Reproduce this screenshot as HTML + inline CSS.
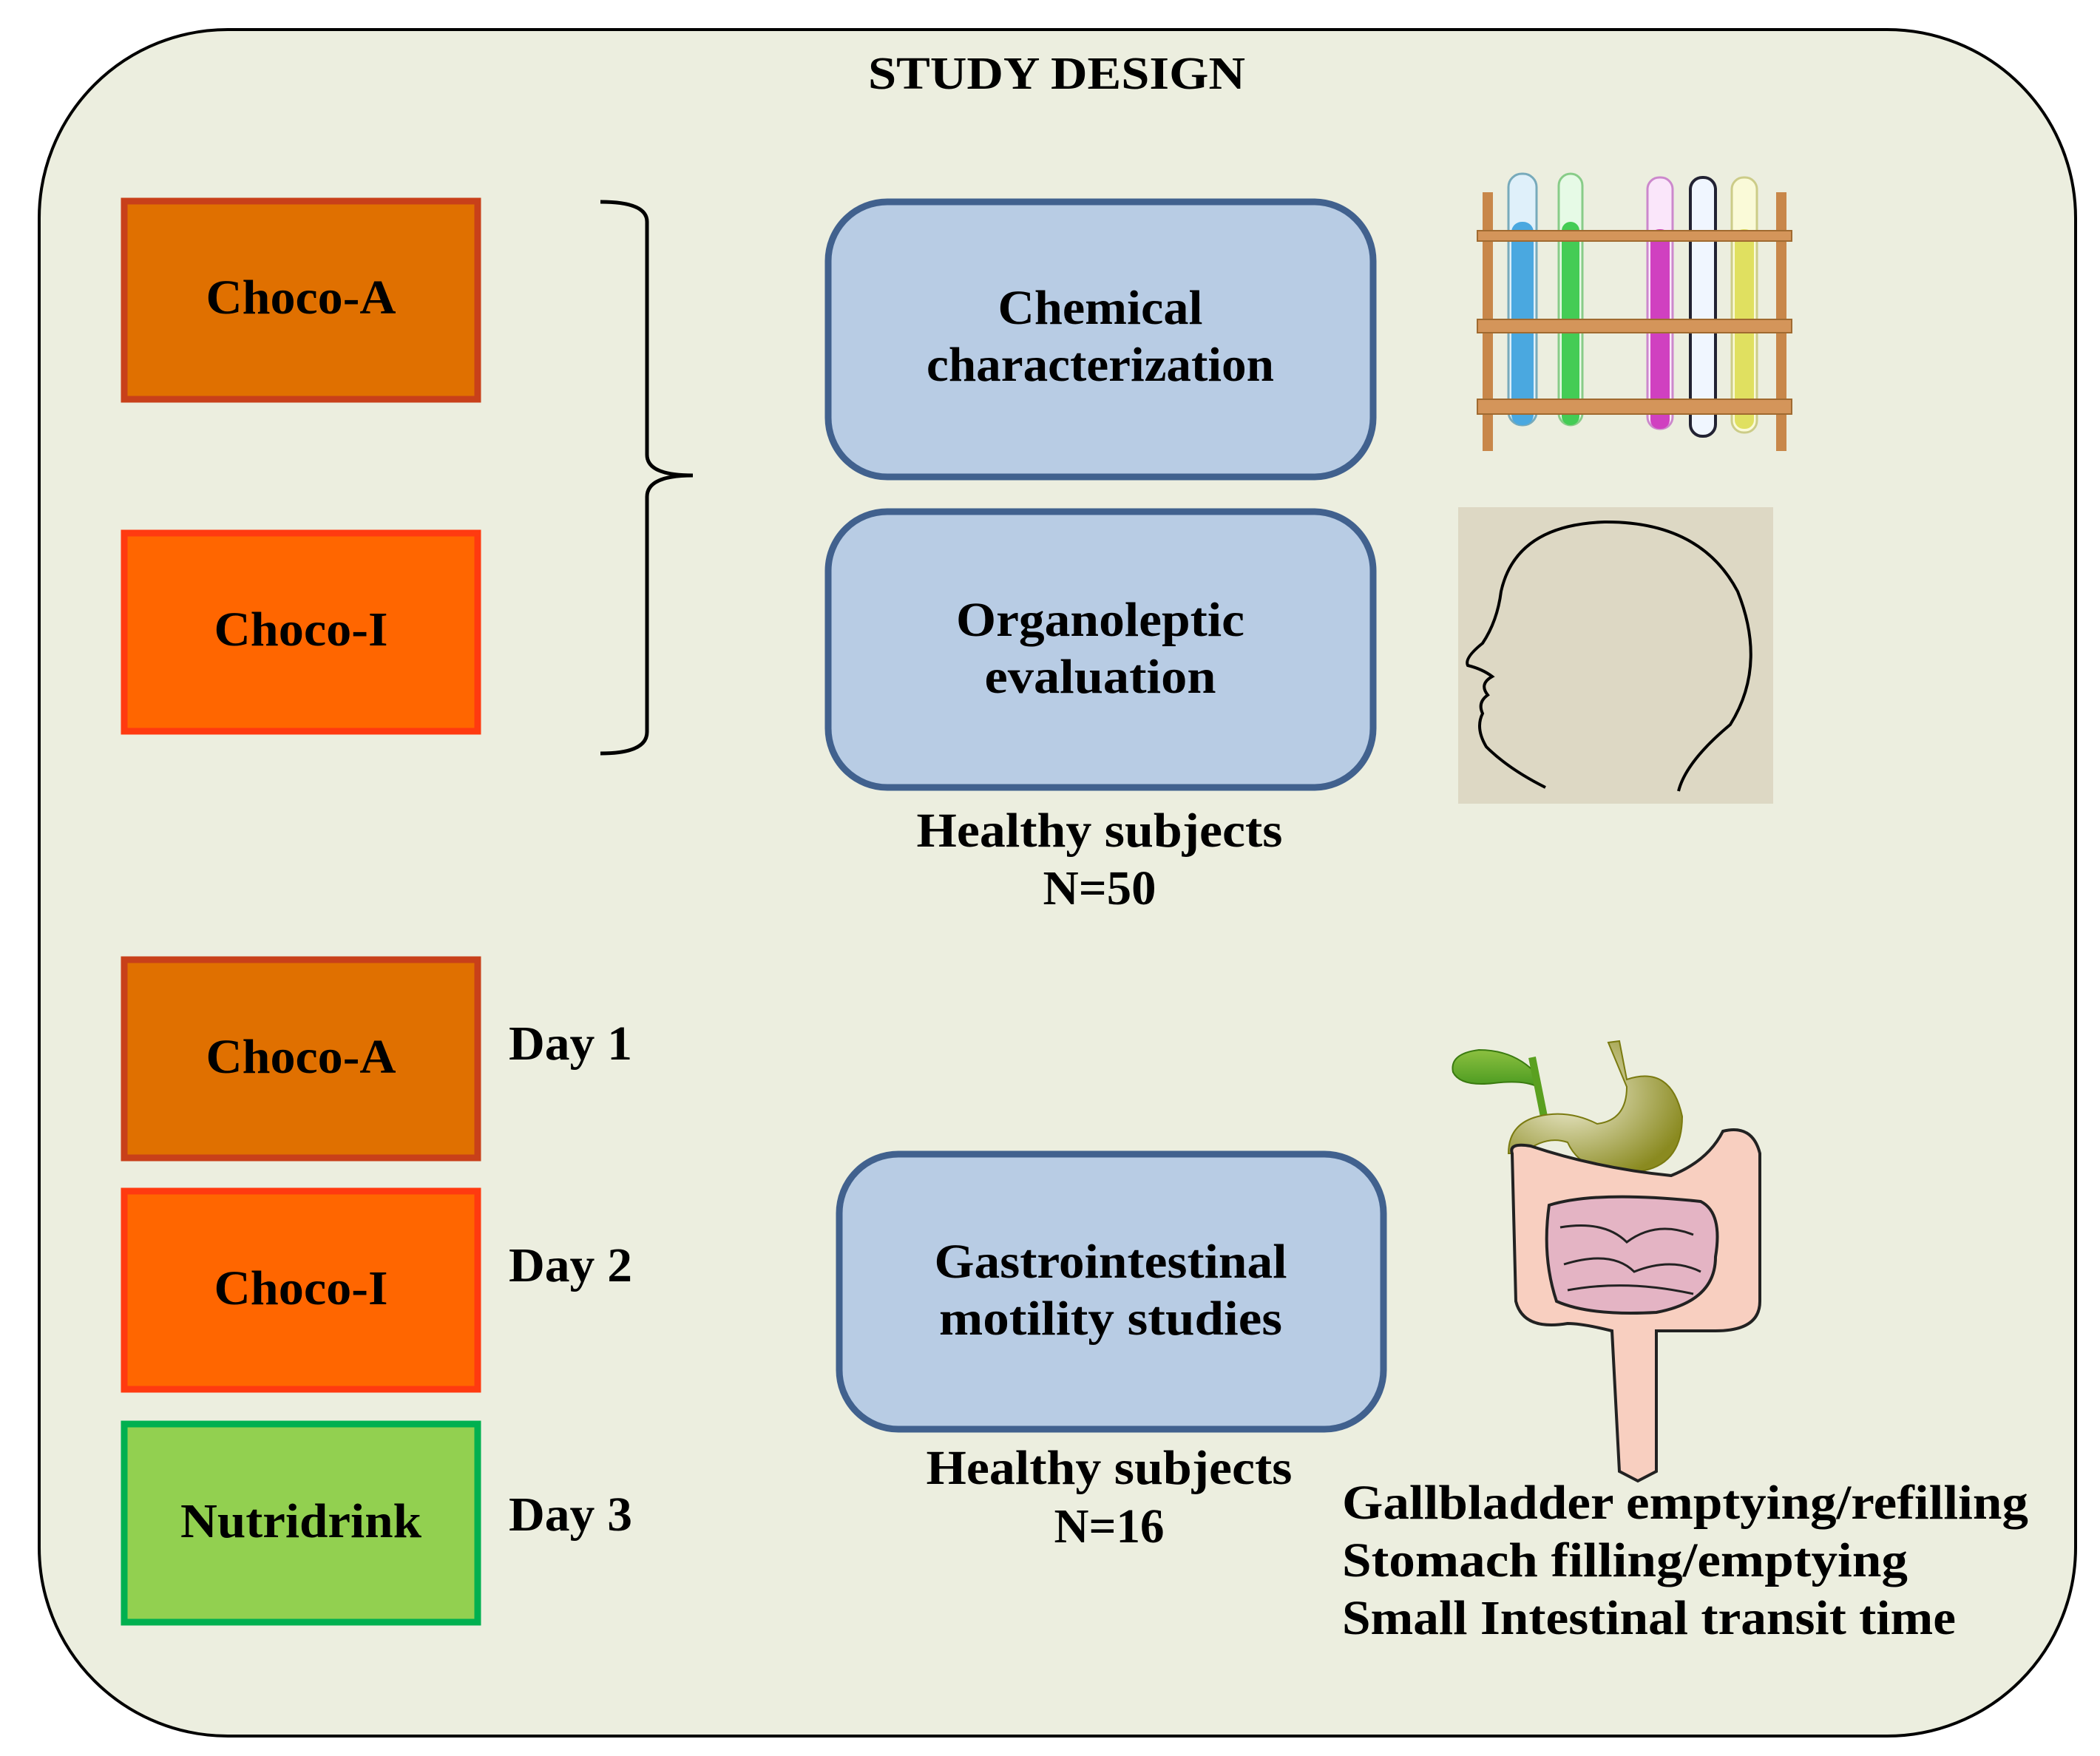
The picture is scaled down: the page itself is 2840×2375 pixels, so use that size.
<!DOCTYPE html>
<html><head><meta charset="utf-8"><style>
html,body{margin:0;padding:0;background:#fff}
svg{display:block}
text{font-family:"Liberation Serif",serif;font-weight:bold;fill:#000}
</style></head><body>
<svg width="2840" height="2375" viewBox="0 0 2840 2375" xmlns="http://www.w3.org/2000/svg">
<defs>
<radialGradient id="st" cx="0.35" cy="0.4" r="0.7"><stop offset="0" stop-color="#f4f2dc"/><stop offset="1" stop-color="#8a8a20"/></radialGradient>
<linearGradient id="gb" x1="0" y1="0" x2="0" y2="1"><stop offset="0" stop-color="#8cc040"/><stop offset="1" stop-color="#4a9a20"/></linearGradient>
</defs>
<rect x="53" y="40" width="2754" height="2308" rx="255" fill="#ECEEDF" stroke="#000" stroke-width="4"/>
<text x="1429" y="120" font-size="62" text-anchor="middle" textLength="510" lengthAdjust="spacingAndGlyphs">STUDY DESIGN</text>

<g font-size="66" text-anchor="middle">
<rect x="168" y="272" width="478" height="268" fill="#E07000" stroke="#C8401A" stroke-width="9"/>
<text x="407" y="424" textLength="257" lengthAdjust="spacingAndGlyphs">Choco-A</text>
<rect x="168" y="721" width="478" height="268" fill="#FF6600" stroke="#FF3A10" stroke-width="9"/>
<text x="407" y="873" textLength="235" lengthAdjust="spacingAndGlyphs">Choco-I</text>
<rect x="168" y="1298" width="478" height="268" fill="#E07000" stroke="#C8401A" stroke-width="9"/>
<text x="407" y="1451" textLength="257" lengthAdjust="spacingAndGlyphs">Choco-A</text>
<rect x="168" y="1611" width="478" height="268" fill="#FF6600" stroke="#FF3A10" stroke-width="9"/>
<text x="407" y="1764" textLength="235" lengthAdjust="spacingAndGlyphs">Choco-I</text>
<rect x="168" y="1926" width="478" height="268" fill="#92D050" stroke="#00B050" stroke-width="9"/>
<text x="407" y="2079" textLength="326" lengthAdjust="spacingAndGlyphs">Nutridrink</text>
</g>

<path d="M812 273 Q875 273 875 300 L875 615 Q875 643 937 643 Q875 643 875 672 L875 990 Q875 1019 812 1019" fill="none" stroke="#000" stroke-width="5"/>

<g font-size="66" text-anchor="middle">
<rect x="1120" y="273" width="737" height="372" rx="80" fill="#B8CCE4" stroke="#41618E" stroke-width="9"/>
<text x="1488" y="438" textLength="277" lengthAdjust="spacingAndGlyphs">Chemical</text>
<text x="1488" y="515" textLength="470" lengthAdjust="spacingAndGlyphs">characterization</text>
<rect x="1120" y="692" width="737" height="373" rx="80" fill="#B8CCE4" stroke="#41618E" stroke-width="9"/>
<text x="1488" y="860" textLength="390" lengthAdjust="spacingAndGlyphs">Organoleptic</text>
<text x="1488" y="937" textLength="313" lengthAdjust="spacingAndGlyphs">evaluation</text>
<rect x="1135" y="1561" width="736" height="372" rx="80" fill="#B8CCE4" stroke="#41618E" stroke-width="9"/>
<text x="1502" y="1728" textLength="477" lengthAdjust="spacingAndGlyphs">Gastrointestinal</text>
<text x="1502" y="1805" textLength="464" lengthAdjust="spacingAndGlyphs">motility studies</text>
<text x="1487" y="1145" textLength="495" lengthAdjust="spacingAndGlyphs">Healthy subjects</text>
<text x="1487" y="1223" textLength="153" lengthAdjust="spacingAndGlyphs">N=50</text>
<text x="1500" y="2007" textLength="495" lengthAdjust="spacingAndGlyphs">Healthy subjects</text>
<text x="1500" y="2086" textLength="149" lengthAdjust="spacingAndGlyphs">N=16</text>
</g>
<g font-size="66">
<text x="688" y="1433" textLength="167" lengthAdjust="spacingAndGlyphs">Day 1</text>
<text x="688" y="1733" textLength="167" lengthAdjust="spacingAndGlyphs">Day 2</text>
<text x="688" y="2070" textLength="167" lengthAdjust="spacingAndGlyphs">Day 3</text>
<text x="1815" y="2054" textLength="928" lengthAdjust="spacingAndGlyphs">Gallbladder emptying/refilling</text>
<text x="1815" y="2132" textLength="765" lengthAdjust="spacingAndGlyphs">Stomach filling/emptying</text>
<text x="1815" y="2210" textLength="830" lengthAdjust="spacingAndGlyphs">Small Intestinal transit time</text>
</g>

<!-- test tubes -->
<g>
<rect x="2005" y="260" width="14" height="350" fill="#C8874A"/>
<rect x="2402" y="260" width="14" height="350" fill="#C8874A"/>
<rect x="2040" y="235" width="38" height="340" rx="18" fill="#dff0fa" stroke="#7ab" stroke-width="3"/>
<rect x="2044" y="300" width="30" height="275" rx="14" fill="#4aa8e0"/>
<rect x="2108" y="235" width="32" height="340" rx="16" fill="#e6fae6" stroke="#8c8" stroke-width="3"/>
<rect x="2112" y="300" width="24" height="275" rx="12" fill="#44cc55"/>
<rect x="2228" y="240" width="34" height="340" rx="16" fill="#fae6fa" stroke="#c8c" stroke-width="3"/>
<rect x="2232" y="310" width="26" height="270" rx="12" fill="#d040c0"/>
<rect x="2286" y="240" width="34" height="350" rx="16" fill="#f0f6ff" stroke="#223" stroke-width="4"/>
<rect x="2342" y="240" width="34" height="345" rx="16" fill="#fafad8" stroke="#cc8" stroke-width="3"/>
<rect x="2346" y="310" width="26" height="270" rx="12" fill="#e0e060"/>
<rect x="1998" y="312" width="425" height="14" fill="#D4955A" stroke="#a06a30" stroke-width="2"/>
<rect x="1998" y="432" width="425" height="18" fill="#D4955A" stroke="#a06a30" stroke-width="2"/>
<rect x="1998" y="540" width="425" height="20" fill="#D4955A" stroke="#a06a30" stroke-width="2"/>
</g>

<!-- head -->
<rect x="1972" y="686" width="426" height="401" fill="#DDD8C4"/>
<path d="M2090 1065 Q2040 1040 2010 1010 Q1995 985 2005 965 Q1998 950 2012 940 Q2000 925 2018 915 Q2005 905 1985 900 Q1980 890 2005 870 Q2025 840 2030 800 Q2050 710 2170 706 Q2300 705 2350 800 Q2390 900 2340 980 Q2280 1030 2270 1070" fill="none" stroke="#000" stroke-width="4"/>

<!-- digestive -->
<path d="M2080 1455 Q2050 1420 2000 1420 Q1960 1425 1965 1450 Q1975 1470 2020 1465 Q2060 1460 2080 1470 Z" fill="url(#gb)" stroke="#3a7a10" stroke-width="2"/>
<path d="M2072 1430 L2090 1520" stroke="#5aa020" stroke-width="10" fill="none"/>
<path d="M2040 1560 Q2040 1520 2080 1510 Q2120 1500 2160 1520 Q2200 1515 2200 1470 L2175 1410 L2190 1408 L2200 1460 Q2260 1440 2275 1510 Q2275 1580 2210 1585 Q2140 1590 2120 1545 Q2090 1535 2060 1560 Z" fill="url(#st)" stroke="#7a7a10" stroke-width="2"/>
<path d="M2045 1560 Q2040 1545 2070 1550 Q2160 1580 2260 1590 Q2310 1570 2330 1530 Q2370 1520 2380 1560 L2380 1760 Q2380 1800 2320 1800 L2240 1800 L2240 1990 L2215 2003 L2190 1990 L2180 1800 Q2140 1790 2120 1790 Q2060 1800 2050 1760 Z" fill="#F8CFC0" stroke="#222" stroke-width="4"/>
<path d="M2095 1630 Q2160 1610 2300 1625 Q2330 1640 2320 1700 Q2320 1760 2240 1775 Q2150 1780 2105 1760 Q2085 1700 2095 1630 Z" fill="#E4B4C4" stroke="#222" stroke-width="4"/>
<path d="M2110 1660 Q2170 1650 2200 1680 Q2240 1650 2290 1670 M2115 1710 Q2180 1690 2210 1720 Q2260 1700 2300 1720 M2120 1745 Q2200 1730 2290 1750" fill="none" stroke="#222" stroke-width="3"/>
</svg>
</body></html>
